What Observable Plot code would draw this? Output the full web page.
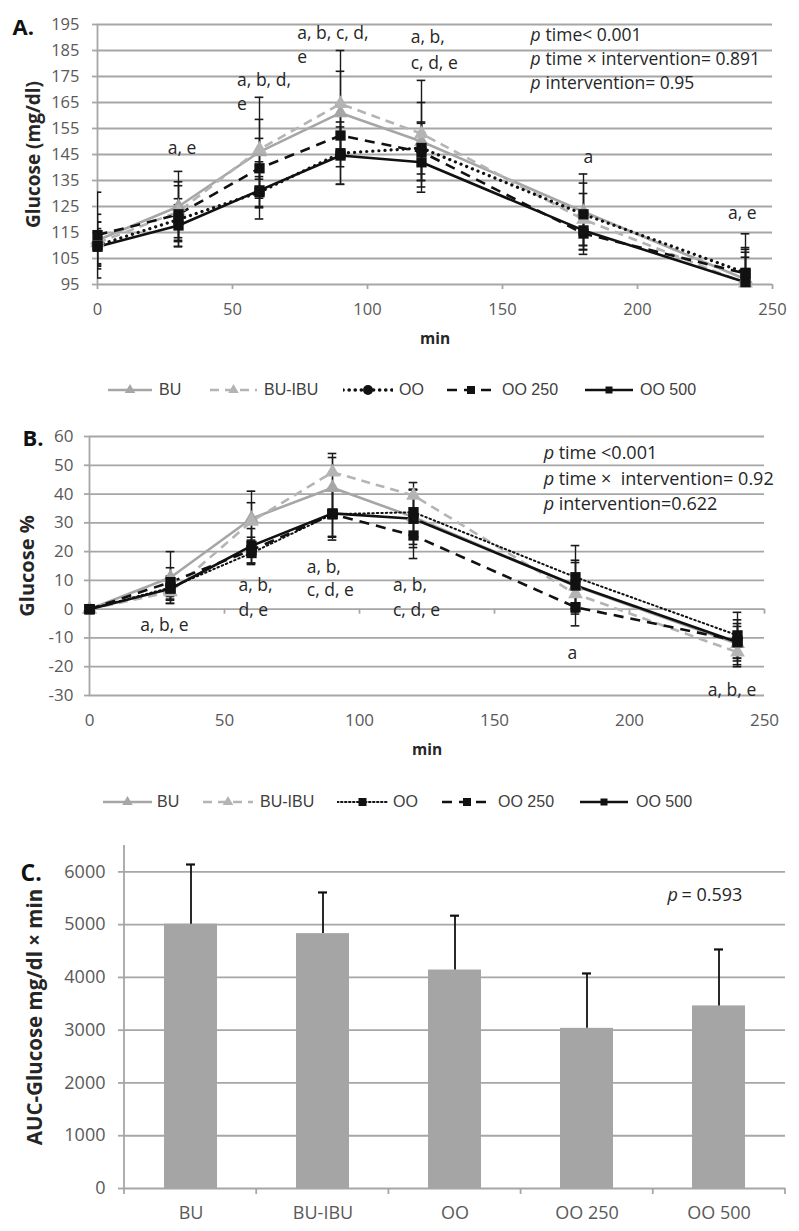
<!DOCTYPE html>
<html><head><meta charset="utf-8">
<script src="https://cdn.jsdelivr.net/npm/d3@7"></script>
<script src="https://cdn.jsdelivr.net/npm/@observablehq/plot@0.6"></script>
<style>
body{margin:0;background:#fff;}
#root{position:relative;width:799px;height:1231px;overflow:hidden;background:#fff;}
.panel{position:absolute;left:0;}
.legend{position:absolute;left:0;width:799px;height:24px;}
.item{position:absolute;top:0;height:24px;display:flex;align-items:center;font-family:"Liberation Sans",sans-serif;font-size:16px;color:#404040;white-space:nowrap;}
.item svg{position:absolute;top:0;}
</style></head><body><div id="root"></div>
<script>
// ---------- data ----------
const times = [0, 30, 60, 90, 120, 180, 240];
const groups = ["BU", "BU-IBU", "OO", "OO 250", "OO 500"];

// Panel A: glucose (mg/dl), means
const gluBU    = [112, 125, 146, 161, 150, 123, 97];
const gluBUIBU = [111, 123, 147, 164.5, 153, 120, 95.5];
const gluOO    = [110, 120, 130.5, 145.5, 147.5, 122, 99.5];
const gluOO250 = [114, 122, 139.7, 152.3, 146, 114.6, 99.2];
const gluOO500 = [109.5, 117.7, 131.2, 144.6, 142, 115.8, 95.9];
// Panel A: SD
const sdGluBU    = [10, 13.5, 21, 16, 15, 14.5, 17.5];
const sdGluBUIBU = [8, 10, 11.5, 20.5, 20.5, 10, 10];
const sdGluOO    = [9, 8, 6, 12, 10, 12, 9];
const sdGluOO250 = [16.5, 12.5, 11.5, 12, 11, 8, 10];
const sdGluOO500 = [7, 8, 11, 11, 11.5, 7.5, 11.5];

// Panel B: glucose % change, means
const pctBU    = [0, 11, 31.5, 42.2, 32, 8, -12];
const pctBUIBU = [0, 6, 30.5, 47.6, 39.5, 5.3, -15];
const pctOO    = [0, 7.5, 19.5, 33, 33.7, 11.1, -9.1];
const pctOO250 = [0, 9.4, 20.5, 33, 25.6, 0.7, -11];
const pctOO500 = [0, 7.1, 22, 33.3, 31.4, 8.2, -11.5];
// Panel B: SD
const sdPctBU    = [0, 9, 9.5, 10.5, 9.5, 9, 6];
const sdPctBUIBU = [0, 4, 6.5, 6.5, 4.5, 7, 5];
const sdPctOO    = [0, 4, 4, 8, 8, 11, 8];
const sdPctOO250 = [0, 5, 4.5, 9, 8, 6.5, 6];
const sdPctOO500 = [0, 4, 6, 8, 10, 8, 7.8];

// Panel C: AUC
const auc   = [5010, 4830, 4140, 3035, 3460];
const aucSD = [1130, 780, 1030, 1040, 1070];

// ticks
const ticksX  = [0, 50, 100, 150, 200, 250];
const ticksYA = [95, 105, 115, 125, 135, 145, 155, 165, 175, 185, 195];
const ticksYB = [-30, -20, -10, 0, 10, 20, 30, 40, 50, 60];
const ticksYC = [0, 1000, 2000, 3000, 4000, 5000, 6000];

// significance annotations (text at data position)
const annA = [
  {text: "a, e", t: 26, v: 147.3},
  {text: "a, b, d,", t: 51.7, v: 173.5},
  {text: "e", t: 51.7, v: 164.2},
  {text: "a, b, c, d,", t: 74, v: 191.5},
  {text: "e", t: 74, v: 182.3},
  {text: "a, b,", t: 116, v: 190},
  {text: "c, d, e", t: 116, v: 180},
  {text: "a", t: 180, v: 143.8},
  {text: "a, e", t: 233.5, v: 122.3}
];
const annB = [
  {text: "a, b, e", t: 18.8, v: -5.7},
  {text: "a, b,", t: 55.2, v: 8.2},
  {text: "d, e", t: 55.2, v: -0.5},
  {text: "a, b,", t: 80.5, v: 14.6},
  {text: "c, d, e", t: 80.5, v: 6.5},
  {text: "a, b,", t: 112.4, v: 8.2},
  {text: "c, d, e", t: 112.4, v: -0.5},
  {text: "a", t: 177, v: -15.5},
  {text: "a, b, e", t: 229, v: -28.3}
];
const pA = [
  {text: "time< 0.001", t: 160.4, v: 190.8},
  {text: "time × intervention= 0.891", t: 160.4, v: 181.5},
  {text: "intervention= 0.95", t: 160.4, v: 172.3}
];
const pB = [
  {text: "time <0.001", t: 168.2, v: 54.1},
  {text: "time ×  intervention= 0.92", t: 168.2, v: 45.1},
  {text: "intervention=0.622", t: 168.2, v: 36.4}
];

// ---------- styles ----------
const GRID = "#a6a6a6", TICKTXT = "#595959", DARK = "#262626";
const FONT = "Open Sans";
const style = {
  "BU":     {stroke: "#a6a6a6", w: 2.6, dash: null, symbol: "triangle", fill: "#a6a6a6", r: 5.5},
  "BU-IBU": {stroke: "#b4b4b4", w: 2.6, dash: "9,6", symbol: "triangle", fill: "#b4b4b4", r: 5.5},
  "OO":     {stroke: "#111", w: 3.2, dash: "0.1,6", cap: "round", symbol: "square", fill: "#111", r: 5.8},
  "OO 250": {stroke: "#111", w: 2.6, dash: "10,7", symbol: "square", fill: "#111", r: 5.8},
  "OO 500": {stroke: "#111", w: 2.6, dash: null, symbol: "square", fill: "#111", r: 5.8}
};

function rowsOf(name, means, sds) {
  return times.map((t, i) => ({s: name, t, v: means[i], sd: sds[i]}));
}

function seriesMarks(list, variant) {
  const err = [], lines = [], dots = [];
  for (const rows of list) {
    const st = style[rows[0].s];
    const eb = rows.filter(d => d.sd > 0);
    err.push(Plot.ruleX(eb, {x: "t", y1: d => d.v - d.sd, y2: d => d.v + d.sd, stroke: "#1a1a1a", strokeWidth: 1.4, clip: true}));
    err.push(Plot.ruleY(eb, {y: d => d.v + d.sd, x1: d => d.t - 1.6, x2: d => d.t + 1.6, stroke: "#1a1a1a", strokeWidth: 1.6, clip: true}));
    err.push(Plot.ruleY(eb, {y: d => d.v - d.sd, x1: d => d.t - 1.6, x2: d => d.t + 1.6, stroke: "#1a1a1a", strokeWidth: 1.6, clip: true}));
    let w = st.w, dash = st.dash;
    if (variant === "B" && rows[0].s === "OO") { w = 2; dash = "1.5,3"; }
    lines.push(Plot.line(rows, {x: "t", y: "v", stroke: st.stroke, strokeWidth: w,
      strokeDasharray: dash || undefined, strokeLinecap: st.cap || "butt"}));
    dots.push(Plot.dot(rows, {x: "t", y: "v", symbol: st.symbol, r: st.r, fill: st.fill, stroke: "none"}));
  }
  return [...err, ...lines, ...dots];
}

function textMarks(ann, size) {
  return Plot.text(ann, {x: "t", y: "v", text: "text", textAnchor: "start", lineAnchor: "middle", fontSize: size, fill: DARK, fontFamily: FONT});
}
function pMarks(list, size) {
  return [
    Plot.text(list, {x: "t", y: "v", text: () => "p", fontStyle: "italic", textAnchor: "start", lineAnchor: "middle", fontSize: size, fill: DARK, fontFamily: FONT}),
    Plot.text(list, {x: "t", y: "v", text: "text", dx: 15, textAnchor: "start", lineAnchor: "middle", fontSize: size, fill: DARK, fontFamily: FONT})
  ];
}
function label(str, anchor, dx, dy, opts) {
  return Plot.text([str], {frameAnchor: anchor, dx, dy, text: d => d, lineAnchor: "middle", ...opts});
}

const root = document.getElementById("root");
function place(el, top) {
  const d = document.createElement("div");
  d.className = "panel";
  d.style.top = top + "px";
  d.appendChild(el);
  root.appendChild(d);
}
const fmt = d => String(d);

// ---------- Panel A ----------
const rowsA = [
  rowsOf("BU", gluBU, sdGluBU),
  rowsOf("BU-IBU", gluBUIBU, sdGluBUIBU),
  rowsOf("OO", gluOO, sdGluOO),
  rowsOf("OO 250", gluOO250, sdGluOO250),
  rowsOf("OO 500", gluOO500, sdGluOO500)
];
const plotA = Plot.plot({
  width: 799, height: 360,
  marginLeft: 97, marginRight: 27, marginTop: 24, marginBottom: 76,
  style: {fontFamily: FONT, background: "transparent", overflow: "visible"},
  x: {domain: [0, 250]},
  y: {domain: [95, 195]},
  marks: [
    Plot.ruleY(ticksYA, {stroke: GRID, strokeWidth: 1.8}),
    Plot.ruleX([0], {stroke: GRID, strokeWidth: 1.8}),
    Plot.axisY({ticks: ticksYA, tickSize: 5, tickPadding: 13, stroke: GRID, strokeWidth: 1.8, fill: TICKTXT, fontSize: 16.5, label: null, tickFormat: fmt}),
    Plot.axisX({ticks: ticksX, tickSize: 5, tickPadding: 14, stroke: GRID, strokeWidth: 1.8, fill: TICKTXT, fontSize: 16.5, label: null, tickFormat: fmt}),
    ...seriesMarks(rowsA, "A"),
    textMarks(annA, 17.5),
    ...pMarks(pA, 17.5),
    label("A.", "top-left", -85, 3, {textAnchor: "start", fontSize: 22, fontWeight: "bold", fill: "#111"}),
    label("Glucose (mg/dl)", "left", -64, 0, {textAnchor: "middle", rotate: -90, fontSize: 19, fontWeight: "bold", fill: DARK}),
    label("min", "bottom", 0, 55, {textAnchor: "middle", fontSize: 15.5, fontWeight: "bold", fill: DARK})
  ]
});
place(plotA, 0);

// ---------- Panel B ----------
const rowsB = [
  rowsOf("BU", pctBU, sdPctBU),
  rowsOf("BU-IBU", pctBUIBU, sdPctBUIBU),
  rowsOf("OO", pctOO, sdPctOO),
  rowsOf("OO 250", pctOO250, sdPctOO250),
  rowsOf("OO 500", pctOO500, sdPctOO500)
];
const plotB = Plot.plot({
  width: 799, height: 340,
  marginLeft: 89, marginRight: 35, marginTop: 16, marginBottom: 65,
  style: {fontFamily: FONT, background: "transparent", overflow: "visible"},
  x: {domain: [0, 250]},
  y: {domain: [-30, 60]},
  marks: [
    Plot.ruleY(ticksYB, {stroke: GRID, strokeWidth: 1.8}),
    Plot.ruleX([0], {stroke: GRID, strokeWidth: 1.8}),
    Plot.ruleX(ticksX, {y1: 0, y2: 0, insetBottom: -5, stroke: GRID, strokeWidth: 1.8}),
    Plot.axisY({ticks: ticksYB, tickSize: 5, tickPadding: 11, stroke: GRID, strokeWidth: 1.8, fill: TICKTXT, fontSize: 17, label: null, tickFormat: fmt}),
    Plot.axisX({ticks: ticksX, tickSize: 0, tickPadding: 18, fill: TICKTXT, fontSize: 17, label: null, tickFormat: fmt}),
    ...seriesMarks(rowsB, "B"),
    textMarks(annB, 17.5),
    ...pMarks(pB, 18),
    label("B.", "top-left", -67, 2, {textAnchor: "start", fontSize: 22, fontWeight: "bold", fill: "#111"}),
    label("Glucose %", "left", -62, 0, {textAnchor: "middle", rotate: -90, fontSize: 20, fontWeight: "bold", fill: DARK}),
    label("min", "bottom", 0, 55, {textAnchor: "middle", fontSize: 15.5, fontWeight: "bold", fill: DARK})
  ]
});
place(plotB, 420);

// ---------- Panel C ----------
const rowsC = groups.map((g, i) => ({s: g, v: auc[i], sd: aucSD[i]}));
const bandTicks = (index, scales, values, dims) => {
  const g = d3.create("svg:g");
  const {marginLeft, marginRight, width, height, marginBottom} = dims;
  const fw = width - marginLeft - marginRight;
  const y0 = height - marginBottom;
  for (let i = 0; i <= groups.length; i++) {
    const x = marginLeft + i * fw / groups.length;
    g.append("line").attr("x1", x).attr("x2", x).attr("y1", y0).attr("y2", y0 + 6)
      .attr("stroke", GRID).attr("stroke-width", 1.8);
  }
  g.append("line").attr("x1", marginLeft).attr("x2", marginLeft).attr("y1", dims.marginTop).attr("y2", y0)
    .attr("stroke", GRID).attr("stroke-width", 1.8);
  return g.node();
};
const plotC = Plot.plot({
  width: 799, height: 401,
  marginLeft: 124, marginRight: 14, marginTop: 15, marginBottom: 43,
  style: {fontFamily: FONT, background: "transparent", overflow: "visible"},
  x: {type: "band", domain: groups, paddingInner: 0.6, paddingOuter: 0.3},
  y: {domain: [0, 6500]},
  marks: [
    Plot.ruleY(ticksYC, {stroke: GRID, strokeWidth: 1.8}),
    bandTicks,
    Plot.axisY({ticks: ticksYC, tickSize: 6, tickPadding: 13, stroke: GRID, strokeWidth: 1.8, fill: TICKTXT, fontSize: 18, label: null, tickFormat: fmt}),
    Plot.axisX({tickSize: 0, tickPadding: 18, fill: TICKTXT, fontSize: 18, label: null}),
    Plot.barY(rowsC, {x: "s", y: "v", fill: "#a5a5a5"}),
    Plot.ruleX(rowsC, {x: "s", y1: "v", y2: d => d.v + d.sd, stroke: "#111", strokeWidth: 1.8}),
    Plot.tickY(rowsC, {x: "s", y: d => d.v + d.sd, insetLeft: 22, insetRight: 22, stroke: "#111", strokeWidth: 2.2}),
    label("p", "top-right", -118, 50, {textAnchor: "start", fontStyle: "italic", fontSize: 18, fill: DARK}),
    label("= 0.593", "top-right", -104, 50, {textAnchor: "start", fontSize: 18, fill: DARK}),
    label("C.", "top-left", -104, 28, {textAnchor: "start", fontSize: 23, fontWeight: "bold", fill: "#111"}),
    label("AUC-Glucose mg/dl × min", "left", -89, 0, {textAnchor: "middle", rotate: -90, fontSize: 20.5, fontWeight: "bold", fill: DARK})
  ]
});
place(plotC, 830);

// ---------- Legends ----------
function sample(name, w, variant) {
  const st = style[name];
  const svg = d3.create("svg").attr("width", w).attr("height", 24);
  let dash = st.dash, lw = st.w;
  if (name === "OO" && variant === "B") { dash = "1.5,2.5"; lw = 2; }
  if (name === "OO" && variant === "A") { dash = "0.1,6"; lw = 3.6; }
  svg.append("line").attr("x1", 0).attr("x2", w).attr("y1", 12).attr("y2", 12)
    .attr("stroke", st.stroke).attr("stroke-width", lw)
    .attr("stroke-dasharray", dash || null).attr("stroke-linecap", st.cap || "butt");
  const cx = w / 2;
  if (st.symbol === "triangle") {
    svg.append("path").attr("d", d3.symbol(d3.symbolTriangle, 48)()).attr("transform", `translate(${cx},12)`)
      .attr("fill", st.fill);
  } else if (name === "OO" && variant === "A") {
    svg.append("circle").attr("cx", cx).attr("cy", 12).attr("r", 5).attr("fill", "#111");
  } else {
    const s = name === "OO 500" ? 7 : 8;
    svg.append("rect").attr("x", cx - s / 2).attr("y", 12 - s / 2).attr("width", s).attr("height", s).attr("fill", "#111");
  }
  return svg.node();
}
function legend(top, items, variant) {
  const L = document.createElement("div");
  L.className = "legend";
  L.style.top = top + "px";
  items.forEach(([name, x0, x1, tx]) => {
    const s = sample(name, x1 - x0, variant);
    s.style.left = x0 + "px";
    s.style.position = "absolute";
    L.appendChild(s);
    const t = document.createElement("div");
    t.className = "item";
    t.style.left = tx + "px";
    t.textContent = name;
    L.appendChild(t);
  });
  root.appendChild(L);
}
legend(378, [["BU", 108, 152, 159], ["BU-IBU", 210, 257, 264], ["OO", 343, 393, 399], ["OO 250", 447, 495, 502], ["OO 500", 585, 633, 640]], "A");
legend(790, [["BU", 103, 152, 157], ["BU-IBU", 203, 253, 260], ["OO", 337, 388, 393], ["OO 250", 442, 492, 498], ["OO 500", 580, 628, 636]], "B");
</script></body></html>
